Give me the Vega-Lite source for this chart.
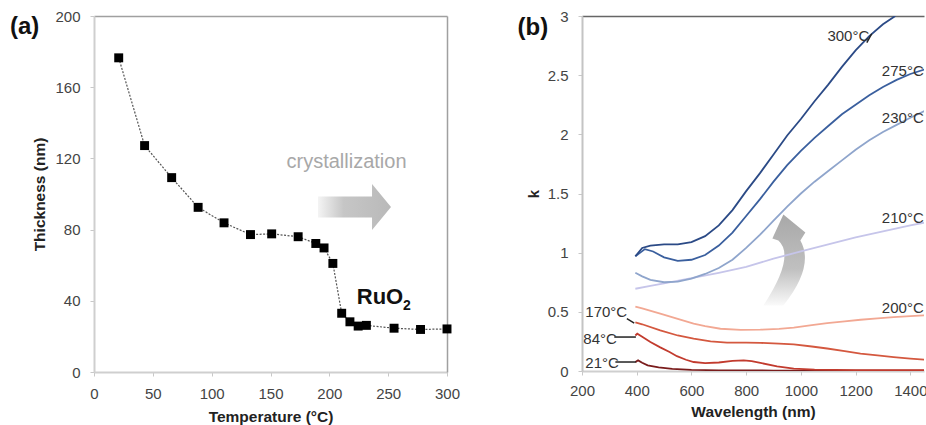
{
  "$schema": "https://vega.github.io/schema/vega-lite/v6.json",
  "background": "white",
  "padding": {"left": 9, "top": 9, "right": 0, "bottom": 0},
  "config": {
    "font": "Liberation Sans",
    "view": {"stroke": null},
    "axis": {"grid": false, "labelFlush": false, "labelOverlap": false}
  },
  "bounds": "flush",
  "spacing": 135,
  "datasets": {
    "thick": [
      {"T": 21, "t": 176.5}, {"T": 43, "t": 127.2}, {"T": 66, "t": 109.2}, {"T": 88.5, "t": 92.5},
      {"T": 110.5, "t": 83.8}, {"T": 133, "t": 77.2}, {"T": 151, "t": 77.6}, {"T": 173.5, "t": 76},
      {"T": 188.5, "t": 72.2}, {"T": 195.5, "t": 69.7}, {"T": 203, "t": 61}, {"T": 210.5, "t": 33},
      {"T": 217.5, "t": 28.2}, {"T": 224.5, "t": 25.8}, {"T": 231.5, "t": 26.2}, {"T": 255, "t": 24.6},
      {"T": 277.5, "t": 23.9}, {"T": 300, "t": 24.2}
    ],
    "curves": [
      {"s": "21°C", "wl": 395, "k": 0.075}, {"s": "21°C", "wl": 405, "k": 0.09}, {"s": "21°C", "wl": 420, "k": 0.07},
      {"s": "21°C", "wl": 440, "k": 0.048}, {"s": "21°C", "wl": 480, "k": 0.03}, {"s": "21°C", "wl": 530, "k": 0.018},
      {"s": "21°C", "wl": 600, "k": 0.01}, {"s": "21°C", "wl": 700, "k": 0.006}, {"s": "21°C", "wl": 900, "k": 0.004},
      {"s": "21°C", "wl": 1200, "k": 0.003}, {"s": "21°C", "wl": 1455, "k": 0.003},

      {"s": "84°C", "wl": 395, "k": 0.3}, {"s": "84°C", "wl": 402, "k": 0.315}, {"s": "84°C", "wl": 420, "k": 0.29},
      {"s": "84°C", "wl": 450, "k": 0.245}, {"s": "84°C", "wl": 486, "k": 0.2}, {"s": "84°C", "wl": 520, "k": 0.16},
      {"s": "84°C", "wl": 547, "k": 0.125}, {"s": "84°C", "wl": 580, "k": 0.095}, {"s": "84°C", "wl": 608, "k": 0.076},
      {"s": "84°C", "wl": 650, "k": 0.066}, {"s": "84°C", "wl": 700, "k": 0.072}, {"s": "84°C", "wl": 750, "k": 0.085},
      {"s": "84°C", "wl": 791, "k": 0.09}, {"s": "84°C", "wl": 820, "k": 0.083}, {"s": "84°C", "wl": 852, "k": 0.068},
      {"s": "84°C", "wl": 913, "k": 0.04}, {"s": "84°C", "wl": 974, "k": 0.02}, {"s": "84°C", "wl": 1050, "k": 0.012},
      {"s": "84°C", "wl": 1200, "k": 0.008}, {"s": "84°C", "wl": 1455, "k": 0.008},

      {"s": "170°C", "wl": 395, "k": 0.41}, {"s": "170°C", "wl": 420, "k": 0.395}, {"s": "170°C", "wl": 486, "k": 0.343},
      {"s": "170°C", "wl": 550, "k": 0.3}, {"s": "170°C", "wl": 608, "k": 0.273}, {"s": "170°C", "wl": 670, "k": 0.25},
      {"s": "170°C", "wl": 730, "k": 0.24}, {"s": "170°C", "wl": 800, "k": 0.24}, {"s": "170°C", "wl": 852, "k": 0.238},
      {"s": "170°C", "wl": 920, "k": 0.232}, {"s": "170°C", "wl": 974, "k": 0.225}, {"s": "170°C", "wl": 1040, "k": 0.207},
      {"s": "170°C", "wl": 1096, "k": 0.19}, {"s": "170°C", "wl": 1160, "k": 0.168}, {"s": "170°C", "wl": 1218, "k": 0.147},
      {"s": "170°C", "wl": 1280, "k": 0.132}, {"s": "170°C", "wl": 1339, "k": 0.118}, {"s": "170°C", "wl": 1400, "k": 0.105},
      {"s": "170°C", "wl": 1455, "k": 0.096},

      {"s": "200°C", "wl": 395, "k": 0.545}, {"s": "200°C", "wl": 420, "k": 0.53}, {"s": "200°C", "wl": 486, "k": 0.484},
      {"s": "200°C", "wl": 550, "k": 0.44}, {"s": "200°C", "wl": 608, "k": 0.4}, {"s": "200°C", "wl": 650, "k": 0.38},
      {"s": "200°C", "wl": 706, "k": 0.357}, {"s": "200°C", "wl": 780, "k": 0.347}, {"s": "200°C", "wl": 852, "k": 0.349},
      {"s": "200°C", "wl": 920, "k": 0.356}, {"s": "200°C", "wl": 974, "k": 0.366}, {"s": "200°C", "wl": 1040, "k": 0.387},
      {"s": "200°C", "wl": 1096, "k": 0.405}, {"s": "200°C", "wl": 1160, "k": 0.42}, {"s": "200°C", "wl": 1218, "k": 0.433},
      {"s": "200°C", "wl": 1280, "k": 0.445}, {"s": "200°C", "wl": 1339, "k": 0.455}, {"s": "200°C", "wl": 1400, "k": 0.463},
      {"s": "200°C", "wl": 1455, "k": 0.47},

      {"s": "210°C", "wl": 395, "k": 0.695}, {"s": "210°C", "wl": 450, "k": 0.72}, {"s": "210°C", "wl": 500, "k": 0.74},
      {"s": "210°C", "wl": 600, "k": 0.785}, {"s": "210°C", "wl": 700, "k": 0.83}, {"s": "210°C", "wl": 800, "k": 0.88},
      {"s": "210°C", "wl": 900, "k": 0.95}, {"s": "210°C", "wl": 1000, "k": 1.01}, {"s": "210°C", "wl": 1100, "k": 1.07},
      {"s": "210°C", "wl": 1200, "k": 1.13}, {"s": "210°C", "wl": 1300, "k": 1.18}, {"s": "210°C", "wl": 1400, "k": 1.23},
      {"s": "210°C", "wl": 1455, "k": 1.255},

      {"s": "230°C", "wl": 395, "k": 0.83}, {"s": "230°C", "wl": 420, "k": 0.8}, {"s": "230°C", "wl": 450, "k": 0.77},
      {"s": "230°C", "wl": 500, "k": 0.75}, {"s": "230°C", "wl": 550, "k": 0.755}, {"s": "230°C", "wl": 600, "k": 0.78},
      {"s": "230°C", "wl": 650, "k": 0.82}, {"s": "230°C", "wl": 700, "k": 0.87}, {"s": "230°C", "wl": 750, "k": 0.94},
      {"s": "230°C", "wl": 800, "k": 1.04}, {"s": "230°C", "wl": 850, "k": 1.15}, {"s": "230°C", "wl": 900, "k": 1.27},
      {"s": "230°C", "wl": 950, "k": 1.39}, {"s": "230°C", "wl": 1000, "k": 1.5}, {"s": "230°C", "wl": 1050, "k": 1.6},
      {"s": "230°C", "wl": 1100, "k": 1.69}, {"s": "230°C", "wl": 1150, "k": 1.78}, {"s": "230°C", "wl": 1200, "k": 1.87},
      {"s": "230°C", "wl": 1250, "k": 1.95}, {"s": "230°C", "wl": 1300, "k": 2.02}, {"s": "230°C", "wl": 1350, "k": 2.08},
      {"s": "230°C", "wl": 1400, "k": 2.14}, {"s": "230°C", "wl": 1455, "k": 2.2},

      {"s": "275°C", "wl": 395, "k": 0.97}, {"s": "275°C", "wl": 430, "k": 1.03}, {"s": "275°C", "wl": 460, "k": 1.01},
      {"s": "275°C", "wl": 500, "k": 0.96}, {"s": "275°C", "wl": 550, "k": 0.93}, {"s": "275°C", "wl": 600, "k": 0.94},
      {"s": "275°C", "wl": 650, "k": 0.98}, {"s": "275°C", "wl": 700, "k": 1.06}, {"s": "275°C", "wl": 750, "k": 1.17},
      {"s": "275°C", "wl": 800, "k": 1.31}, {"s": "275°C", "wl": 850, "k": 1.45}, {"s": "275°C", "wl": 900, "k": 1.6},
      {"s": "275°C", "wl": 950, "k": 1.74}, {"s": "275°C", "wl": 1000, "k": 1.86}, {"s": "275°C", "wl": 1050, "k": 1.97},
      {"s": "275°C", "wl": 1100, "k": 2.07}, {"s": "275°C", "wl": 1150, "k": 2.17}, {"s": "275°C", "wl": 1200, "k": 2.25},
      {"s": "275°C", "wl": 1250, "k": 2.33}, {"s": "275°C", "wl": 1300, "k": 2.4}, {"s": "275°C", "wl": 1350, "k": 2.46},
      {"s": "275°C", "wl": 1400, "k": 2.51}, {"s": "275°C", "wl": 1455, "k": 2.55},

      {"s": "300°C", "wl": 395, "k": 0.97}, {"s": "300°C", "wl": 420, "k": 1.04}, {"s": "300°C", "wl": 450, "k": 1.06},
      {"s": "300°C", "wl": 500, "k": 1.07}, {"s": "300°C", "wl": 550, "k": 1.07}, {"s": "300°C", "wl": 600, "k": 1.09},
      {"s": "300°C", "wl": 650, "k": 1.14}, {"s": "300°C", "wl": 700, "k": 1.23}, {"s": "300°C", "wl": 750, "k": 1.36},
      {"s": "300°C", "wl": 800, "k": 1.52}, {"s": "300°C", "wl": 850, "k": 1.67}, {"s": "300°C", "wl": 900, "k": 1.83},
      {"s": "300°C", "wl": 950, "k": 1.99}, {"s": "300°C", "wl": 1000, "k": 2.13}, {"s": "300°C", "wl": 1050, "k": 2.28},
      {"s": "300°C", "wl": 1100, "k": 2.42}, {"s": "300°C", "wl": 1150, "k": 2.57}, {"s": "300°C", "wl": 1200, "k": 2.71},
      {"s": "300°C", "wl": 1250, "k": 2.83}, {"s": "300°C", "wl": 1300, "k": 2.93}, {"s": "300°C", "wl": 1345, "k": 3.0}
    ],
    "leftLabels": [
      {"label": "300°C", "wl": 1097, "k": 2.83},
      {"label": "170°C", "wl": 212, "k": 0.495},
      {"label": "84°C", "wl": 205, "k": 0.267},
      {"label": "21°C", "wl": 212, "k": 0.065}
    ],
    "rightLabels": [
      {"label": "275°C", "wl": 1449, "k": 2.535},
      {"label": "230°C", "wl": 1449, "k": 2.14},
      {"label": "210°C", "wl": 1449, "k": 1.295},
      {"label": "200°C", "wl": 1449, "k": 0.529}
    ],
    "leaders": [
      {"wl": 364, "k": 0.442, "wl2": 391, "k2": 0.405},
      {"wl": 318, "k": 0.287, "wl2": 397, "k2": 0.287},
      {"wl": 322, "k": 0.076, "wl2": 397, "k2": 0.076},
      {"wl": 1241, "k": 2.775, "wl2": 1259, "k2": 2.85}
    ]
  },
  "hconcat": [
    {
      "width": 353,
      "height": 356,
      "resolve": {"axis": {"x": "independent", "y": "independent"}},
      "layer": [
        {
          "data": {"values": [{"T": 221.4, "t": 92.7}]},
          "mark": {
            "type": "point",
            "shape": "M -1 -0.29 L 0.48 -0.29 L 0.48 -0.63 L 1 0 L 0.48 0.63 L 0.48 0.29 L -1 0.29 Z",
            "size": 5329, "filled": true, "opacity": 1, "strokeWidth": 0,
            "fill": {"gradient": "linear", "x1": 0, "y1": 0, "x2": 1, "y2": 0,
              "stops": [{"offset": 0, "color": "#f4f4f4"}, {"offset": 0.35, "color": "#c6c6c6"}, {"offset": 1, "color": "#b9b9b9"}]}
          },
          "encoding": {
            "x": {"field": "T", "type": "quantitative", "scale": {"domain": [0, 300], "nice": false, "zero": false},
              "axis": {"orient": "top", "labels": false, "ticks": false, "title": null, "domainColor": "#a0a0a0", "domainWidth": 1.5}},
            "y": {"field": "t", "type": "quantitative", "scale": {"domain": [0, 200], "nice": false},
              "axis": {"orient": "right", "labels": false, "ticks": false, "title": null, "domainColor": "#a0a0a0", "domainWidth": 1.5}}
          }
        },
        {
          "data": {"name": "thick"},
          "mark": {"type": "line", "color": "#555555", "strokeWidth": 1.2, "strokeDash": [2, 1.5]},
          "encoding": {
            "x": {"field": "T", "type": "quantitative", "scale": {"domain": [0, 300], "nice": false, "zero": false},
              "axis": {"values": [0, 50, 100, 150, 200, 250, 300], "title": "Temperature (°C)", "labelFontSize": 15, "labelColor": "#444444",
                "tickSize": 4, "tickColor": "#c8c8c8", "domainColor": "#cfcfcf", "domainWidth": 2, "labelPadding": 10,
                "titleFontSize": 15.5, "titleFontWeight": "bold", "titleColor": "#222222", "titlePadding": 8}},
            "y": {"field": "t", "type": "quantitative", "scale": {"domain": [0, 200], "nice": false},
              "axis": {"values": [0, 40, 80, 120, 160, 200], "title": "Thickness (nm)", "labelFontSize": 15, "labelColor": "#444444",
                "tickSize": 4, "tickColor": "#c8c8c8", "domainColor": "#cfcfcf", "domainWidth": 2, "labelPadding": 10,
                "titleFontSize": 15.5, "titleFontWeight": "bold", "titleColor": "#222222", "titlePadding": 7}}
          }
        },
        {
          "data": {"name": "thick"},
          "mark": {"type": "square", "size": 80, "color": "#000000", "opacity": 1},
          "encoding": {
            "x": {"field": "T", "type": "quantitative", "axis": null},
            "y": {"field": "t", "type": "quantitative", "axis": null}
          }
        },
        {
          "data": {"values": [{"T": 214.6, "t": 118, "label": "crystallization"}]},
          "mark": {"type": "text", "fontSize": 20, "color": "#a8a8a8", "align": "center", "baseline": "middle"},
          "encoding": {
            "x": {"field": "T", "type": "quantitative", "axis": null},
            "y": {"field": "t", "type": "quantitative", "axis": null},
            "text": {"field": "label"}
          }
        },
        {
          "data": {"values": [{"T": 223.3, "t": 42.1, "label": "RuO"}]},
          "mark": {"type": "text", "fontSize": 22, "fontWeight": "bold", "color": "#111111", "align": "left", "baseline": "middle"},
          "encoding": {
            "x": {"field": "T", "type": "quantitative", "axis": null},
            "y": {"field": "t", "type": "quantitative", "axis": null},
            "text": {"field": "label"}
          }
        },
        {
          "data": {"values": [{"T": 262.6, "t": 37.1, "label": "2"}]},
          "mark": {"type": "text", "fontSize": 14, "fontWeight": "bold", "color": "#111111", "align": "left", "baseline": "middle"},
          "encoding": {
            "x": {"field": "T", "type": "quantitative", "axis": null},
            "y": {"field": "t", "type": "quantitative", "axis": null},
            "text": {"field": "label"}
          }
        },
        {
          "data": {"values": [{"T": -71.4, "t": 193.8, "label": "(a)"}]},
          "mark": {"type": "text", "fontSize": 24, "fontWeight": "bold", "color": "#111111", "align": "left", "baseline": "middle"},
          "encoding": {
            "x": {"field": "T", "type": "quantitative", "axis": null},
            "y": {"field": "t", "type": "quantitative", "axis": null},
            "text": {"field": "label"}
          }
        }
      ]
    },
    {
      "width": 342,
      "height": 355,
      "resolve": {"axis": {"x": "independent", "y": "independent"}},
      "layer": [
        {
          "data": {"values": [{"wl": 936, "k": 0.942}]},
          "mark": {
            "type": "point",
            "shape": "M -0.417 0.958 Q 0.26 -0.073 -0.104 -0.396 L -0.229 -0.4375 L 0 -0.9375 L 0.458 -0.5625 L 0.354 -0.396 Q 0.656 0.135 0 0.958 Z",
            "size": 9216, "filled": true, "opacity": 1, "strokeWidth": 0,
            "fill": {"gradient": "linear", "x1": 0, "y1": 0, "x2": 0, "y2": 1,
              "stops": [{"offset": 0, "color": "#a8a8a8"}, {"offset": 0.6, "color": "#c0c0c0"}, {"offset": 1, "color": "#fafafa"}]}
          },
          "encoding": {
            "x": {"field": "wl", "type": "quantitative", "scale": {"domain": [200, 1450], "nice": false, "zero": false},
              "axis": {"orient": "top", "labels": false, "ticks": false, "title": null, "domainColor": "#666666", "domainWidth": 1.5}},
            "y": {"field": "k", "type": "quantitative", "scale": {"domain": [0, 3], "nice": false}, "axis": null}
          }
        },
        {
          "data": {"name": "curves"},
          "mark": {"type": "line", "strokeWidth": 1.8, "clip": true},
          "encoding": {
            "x": {"field": "wl", "type": "quantitative", "scale": {"domain": [200, 1450], "nice": false, "zero": false},
              "axis": {"values": [200, 400, 600, 800, 1000, 1200, 1400], "format": "d", "title": "Wavelength (nm)", "labelFontSize": 15, "labelColor": "#444444",
                "tickSize": 4, "tickColor": "#c8c8c8", "domainColor": "#cfcfcf", "domainWidth": 2, "labelPadding": 8,
                "titleFontSize": 15.5, "titleFontWeight": "bold", "titleColor": "#222222", "titlePadding": 6}},
            "y": {"field": "k", "type": "quantitative", "scale": {"domain": [0, 3], "nice": false},
              "axis": {"values": [0, 0.5, 1, 1.5, 2, 2.5, 3], "format": "~g", "title": "k", "labelFontSize": 15, "labelColor": "#444444",
                "tickSize": 4, "tickColor": "#c8c8c8", "domainColor": "#c4c4c4", "domainWidth": 2, "labelPadding": 10,
                "titleFontSize": 15, "titleFontWeight": "bold", "titleColor": "#222222", "titlePadding": 6}},
            "color": {"field": "s", "type": "nominal", "legend": null,
              "scale": {"domain": ["21°C", "84°C", "170°C", "200°C", "210°C", "230°C", "275°C", "300°C"],
                "range": ["#7a1c1c", "#c23b2e", "#d4583f", "#f2a893", "#c6c5ea", "#8fa5cc", "#3a5f9e", "#2b4a86"]}}
          }
        },
        {
          "data": {"name": "leaders"},
          "mark": {"type": "rule", "color": "#222222", "strokeWidth": 1.5},
          "encoding": {
            "x": {"field": "wl", "type": "quantitative", "axis": null},
            "x2": {"field": "wl2"},
            "y": {"field": "k", "type": "quantitative", "axis": null},
            "y2": {"field": "k2"}
          }
        },
        {
          "data": {"name": "leftLabels"},
          "mark": {"type": "text", "fontSize": 15, "color": "#333333", "align": "left", "baseline": "middle"},
          "encoding": {
            "x": {"field": "wl", "type": "quantitative", "axis": null},
            "y": {"field": "k", "type": "quantitative", "axis": null},
            "text": {"field": "label"}
          }
        },
        {
          "data": {"name": "rightLabels"},
          "mark": {"type": "text", "fontSize": 15, "color": "#333333", "align": "right", "baseline": "middle"},
          "encoding": {
            "x": {"field": "wl", "type": "quantitative", "axis": null},
            "y": {"field": "k", "type": "quantitative", "axis": null},
            "text": {"field": "label"}
          }
        },
        {
          "data": {"values": [{"wl": -35.5, "k": 2.9, "label": "(b)"}]},
          "mark": {"type": "text", "fontSize": 24, "fontWeight": "bold", "color": "#111111", "align": "left", "baseline": "middle"},
          "encoding": {
            "x": {"field": "wl", "type": "quantitative", "axis": null},
            "y": {"field": "k", "type": "quantitative", "axis": null},
            "text": {"field": "label"}
          }
        }
      ]
    }
  ]
}
